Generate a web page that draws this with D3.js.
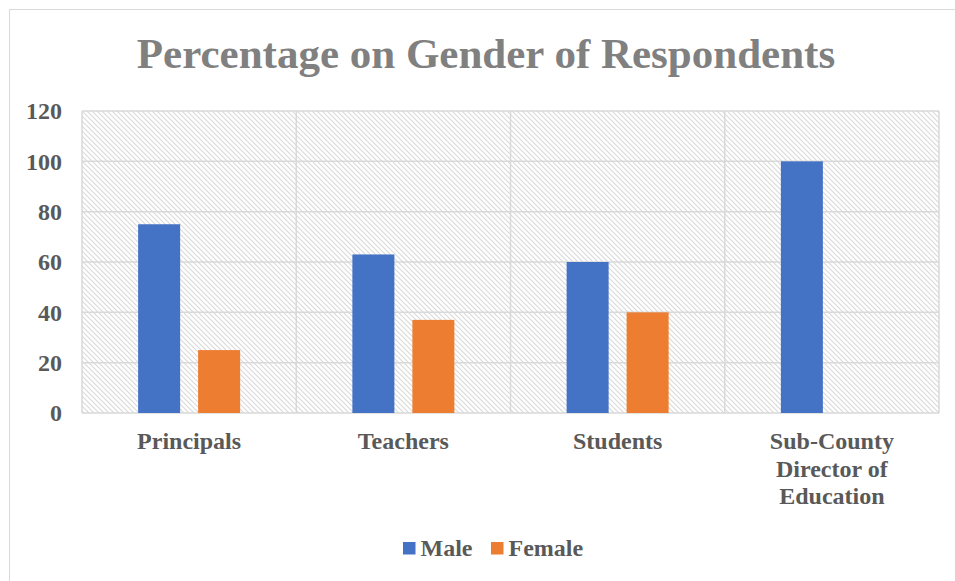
<!DOCTYPE html>
<html>
<head>
<meta charset="utf-8">
<script src="https://cdn.jsdelivr.net/npm/d3@7"></script>
<style>
  body { margin: 0; background: #fff; }
  svg text { font-family: "Liberation Serif", "Times New Roman", serif; font-weight: bold; }
</style>
</head>
<body>
<svg width="955" height="581"></svg>
<script>
// data
var categories = ["Principals", "Teachers", "Students", "Sub-County Director of Education"];
var categoryLines = [["Principals"], ["Teachers"], ["Students"], ["Sub-County", "Director of", "Education"]];
var seriesNames = ["Male", "Female"];
var male = [75, 63, 60, 100];
var female = [25, 37, 40, 0];
var yTicks = [0, 20, 40, 60, 80, 100, 120];
var colors = ["#4472c4", "#ed7d31"];

var svg = d3.select("svg"),
    margin = {top: 111, right: 16, bottom: 168, left: 82},
    width = 955 - margin.left - margin.right,
    height = 581 - margin.top - margin.bottom;

// outer chart border
svg.append("rect")
    .attr("x", 9.5).attr("y", 9.5)
    .attr("width", 980).attr("height", 620)
    .attr("fill", "#fff")
    .attr("stroke", "#d9d9d9");

// hatch pattern
var pat = svg.append("defs").append("pattern")
    .attr("id", "hatch")
    .attr("patternUnits", "userSpaceOnUse")
    .attr("width", 5).attr("height", 5);
pat.append("path")
    .attr("d", "M-1,-1 L6,6 M-1,4 L1,6 M4,-1 L6,1")
    .attr("stroke", "#d9d9d9")
    .attr("stroke-width", 1.1);

svg.append("text")
    .attr("x", 486).attr("y", 68)
    .attr("text-anchor", "middle")
    .attr("fill", "#808080")
    .style("font-size", "43px")
    .text("Percentage on Gender of Respondents");

var g = svg.append("g").attr("transform", "translate(" + margin.left + "," + margin.top + ")");

var x0 = d3.scaleBand().domain(categories).range([0, width]);
var x1 = d3.scaleBand().domain(seriesNames).range([0, 102]).paddingInner(0.3);
var y = d3.scaleLinear().domain([0, 120]).range([height, 0]);

g.append("rect")
    .attr("width", width).attr("height", height)
    .attr("fill", "url(#hatch)");

// horizontal gridlines
g.selectAll(".hgrid")
    .data(yTicks)
    .enter().append("line")
    .attr("x1", 0).attr("x2", width)
    .attr("y1", function(d) { return y(d); })
    .attr("y2", function(d) { return y(d); })
    .attr("stroke", "#d9d9d9")
    .attr("stroke-width", 1.5);

// vertical gridlines at category edges
var edges = categories.map(function(c) { return x0(c); }).concat([width]);
g.selectAll(".vgrid")
    .data(edges)
    .enter().append("line")
    .attr("x1", function(d) { return d; }).attr("x2", function(d) { return d; })
    .attr("y1", 0).attr("y2", height)
    .attr("stroke", "#d9d9d9")
    .attr("stroke-width", 1.5);

// y axis labels
g.append("g")
    .call(d3.axisLeft(y).tickValues(yTicks).tickSize(0).tickPadding(20))
    .call(function(a) { a.select(".domain").remove(); })
    .selectAll("text")
    .attr("fill", "#595959")
    .style("font-size", "24px")
    .attr("dy", "0.33em");

// bars
var rows = categories.map(function(c, i) { return {cat: c, values: [male[i], female[i]]}; });
var grp = g.selectAll(".cat")
    .data(rows)
    .enter().append("g")
    .attr("transform", function(d) { return "translate(" + (x0(d.cat) + x0.bandwidth() / 2 - 51) + ",0)"; });

grp.selectAll("rect")
    .data(function(d) { return d.values.map(function(v, j) { return {name: seriesNames[j], v: v, j: j}; }); })
    .enter().append("rect")
    .filter(function(d) { return d.v > 0; })
    .attr("x", function(d) { return x1(d.name); })
    .attr("width", x1.bandwidth())
    .attr("y", function(d) { return y(d.v); })
    .attr("height", function(d) { return height - y(d.v); })
    .attr("fill", function(d) { return colors[d.j]; });

// category labels
categories.forEach(function(c, i) {
    var t = g.append("text")
        .attr("x", x0(c) + x0.bandwidth() / 2)
        .attr("y", height + 36)
        .attr("text-anchor", "middle")
        .attr("fill", "#595959")
        .style("font-size", "24px");
    categoryLines[i].forEach(function(line, k) {
        t.append("tspan")
            .attr("x", x0(c) + x0.bandwidth() / 2)
            .attr("dy", k === 0 ? 0 : 27.5)
            .text(line);
    });
});

// legend
var legend = svg.append("g").attr("transform", "translate(403,542)");
var lx = [0, 88];
seriesNames.forEach(function(s, i) {
    legend.append("rect")
        .attr("x", lx[i]).attr("y", 0)
        .attr("width", 12.5).attr("height", 12.5)
        .attr("fill", colors[i]);
    legend.append("text")
        .attr("x", lx[i] + 17.5).attr("y", 14)
        .attr("fill", "#595959")
        .style("font-size", "24px")
        .text(s);
});
</script>
</body>
</html>
